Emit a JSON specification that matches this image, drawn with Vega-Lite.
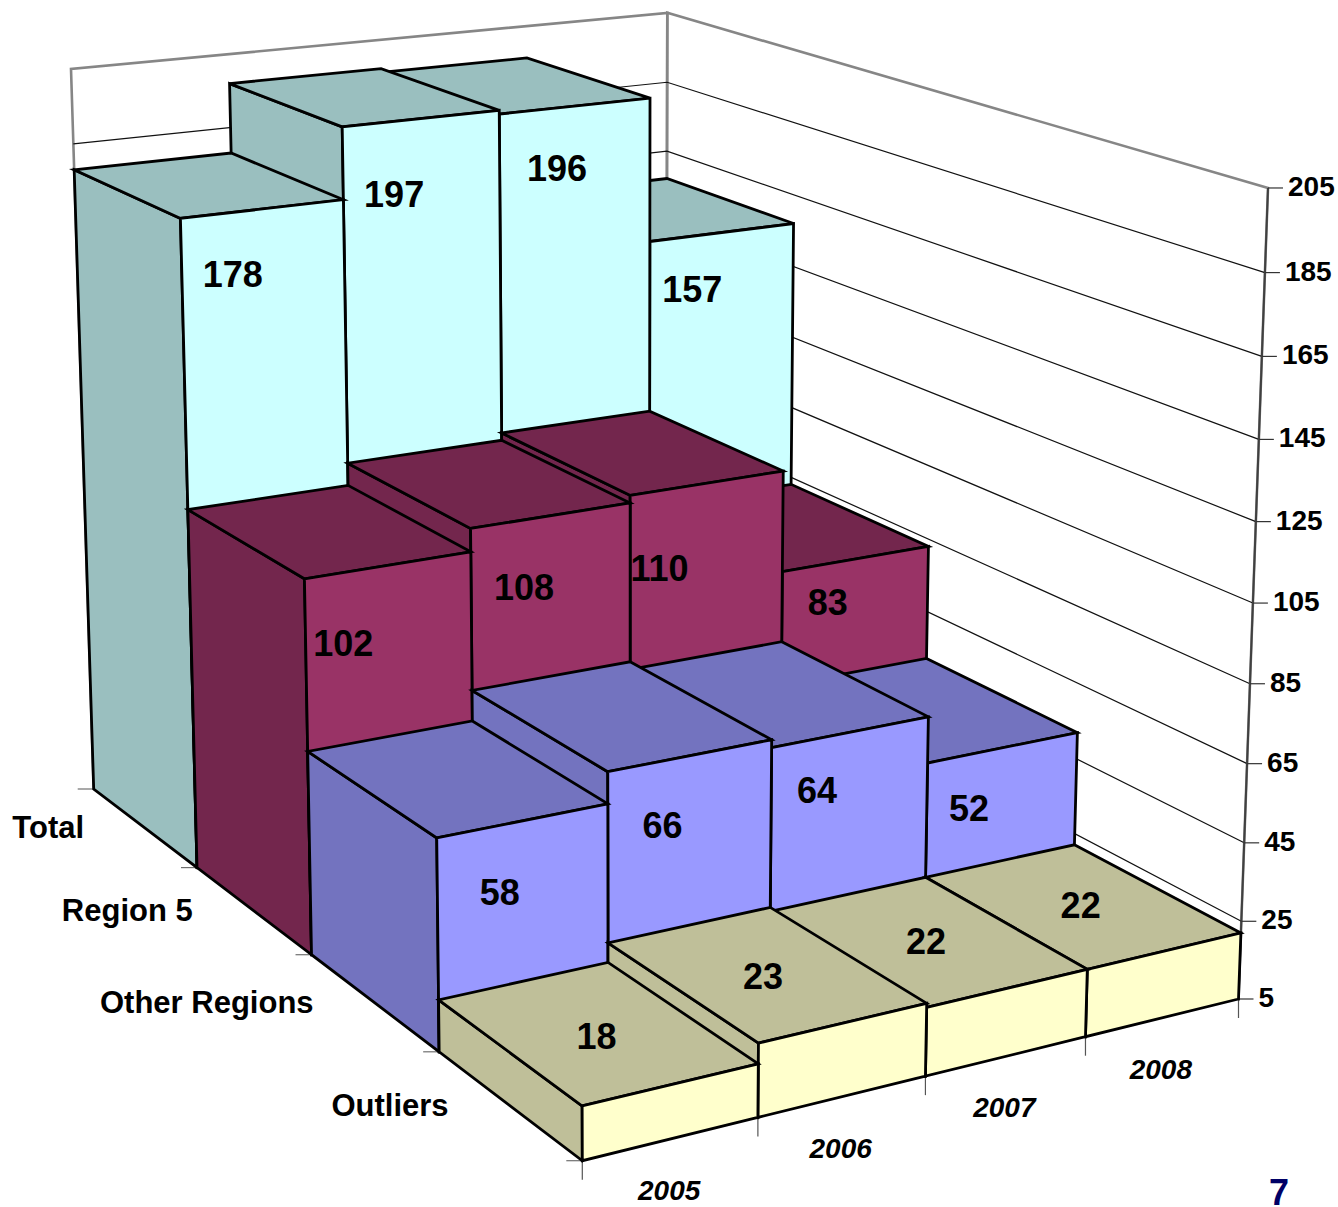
{
  "$schema": "https://vega.github.io/schema/vega-lite/v6.json",
  "width": 1338,
  "height": 1207,
  "padding": 0,
  "autosize": {"type": "none"},
  "background": "white",
  "title": {"text": "7", "orient": "bottom", "anchor": "end", "offset": -2, "dx": -49, "color": "#000066", "font": "Liberation Sans", "fontSize": 36, "fontWeight": "bold", "baseline": "alphabetic"},
  "config": {"view": {"stroke": null}},
  "datasets": {
    "bars": [
      {"series": "Total", "year": 2008, "value": 157},
      {"series": "Total", "year": 2007, "value": 196},
      {"series": "Total", "year": 2006, "value": 197},
      {"series": "Total", "year": 2005, "value": 178},
      {"series": "Region 5", "year": 2008, "value": 83},
      {"series": "Region 5", "year": 2007, "value": 110},
      {"series": "Region 5", "year": 2006, "value": 108},
      {"series": "Region 5", "year": 2005, "value": 102},
      {"series": "Other Regions", "year": 2008, "value": 52},
      {"series": "Other Regions", "year": 2007, "value": 64},
      {"series": "Other Regions", "year": 2006, "value": 66},
      {"series": "Other Regions", "year": 2005, "value": 58},
      {"series": "Outliers", "year": 2008, "value": 22},
      {"series": "Outliers", "year": 2007, "value": 22},
      {"series": "Outliers", "year": 2006, "value": 23},
      {"series": "Outliers", "year": 2005, "value": 18}
    ],
    "walls": [{"wall": "back"}, {"wall": "side"}],
    "valueTicks": [{"tick": 5}, {"tick": 25}, {"tick": 45}, {"tick": 65}, {"tick": 85}, {"tick": 105}, {"tick": 125}, {"tick": 145}, {"tick": 165}, {"tick": 185}, {"tick": 205}],
    "seriesAxis": [{"series": "Total", "depth": 3}, {"series": "Region 5", "depth": 2}, {"series": "Other Regions", "depth": 1}, {"series": "Outliers", "depth": 0}],
    "seriesEdges": [{"edge": 0}, {"edge": 1}, {"edge": 2}, {"edge": 3}, {"edge": 4}],
    "yearAxis": [{"year": "2005", "slot": 0}, {"year": "2006", "slot": 1}, {"year": "2007", "slot": 2}, {"year": "2008", "slot": 3}]
  },
  "layer": [
    {
      "description": "Back and side walls of the 3-D box",
      "data": {"name": "walls"},
      "transform": [
        {"calculate": "[0,1,2,3,4]", "as": "corner"},
        {"flatten": ["corner"]},
        {"calculate": "datum.wall === 'back' ? [0,1,1,0,0][datum.corner] : 1", "as": "mx"},
        {"calculate": "datum.wall === 'back' ? 1 : [1,0,0,1,1][datum.corner]", "as": "mz"},
        {"calculate": "[0,0,1,1,0][datum.corner]", "as": "mu"},
        {"calculate": "(582.3+775.12*datum.mx-465.83*datum.mz-31.81*datum.mu)/(1+0.09602*datum.mx+0.24302*datum.mz-0.05059*datum.mu)", "as": "px"},
        {"calculate": "(1160.7-65.78*datum.mx-179.96*datum.mz-898.4*datum.mu)/(1+0.09602*datum.mx+0.24302*datum.mz-0.05059*datum.mu)", "as": "py"}
      ],
      "mark": {"type": "line", "stroke": "#868686", "strokeWidth": 2.6, "strokeJoin": "miter"},
      "encoding": {
        "x": {"field": "px", "type": "quantitative", "scale": {"domain": [0, 1338], "nice": false, "zero": false}, "axis": null},
        "y": {"field": "py", "type": "quantitative", "scale": {"domain": [1207, 0], "nice": false, "zero": false}, "axis": null},
        "detail": {"field": "wall"},
        "order": {"field": "corner", "type": "quantitative"}
      }
    },
    {
      "description": "Gridlines running round the two walls",
      "data": {"name": "valueTicks"},
      "transform": [
        {"filter": "datum.tick < 205"},
        {"calculate": "[0,1,2]", "as": "corner"},
        {"flatten": ["corner"]},
        {"calculate": "[0,1,1][datum.corner]", "as": "mx"},
        {"calculate": "[1,1,0][datum.corner]", "as": "mz"},
        {"calculate": "(datum.tick-5)/200", "as": "mu"},
        {"calculate": "(582.3+775.12*datum.mx-465.83*datum.mz-31.81*datum.mu)/(1+0.09602*datum.mx+0.24302*datum.mz-0.05059*datum.mu)", "as": "px"},
        {"calculate": "(1160.7-65.78*datum.mx-179.96*datum.mz-898.4*datum.mu)/(1+0.09602*datum.mx+0.24302*datum.mz-0.05059*datum.mu)", "as": "py"}
      ],
      "mark": {"type": "line", "stroke": "#111111", "strokeWidth": 1.2},
      "encoding": {
        "x": {"field": "px", "type": "quantitative", "axis": null},
        "y": {"field": "py", "type": "quantitative", "axis": null},
        "detail": {"field": "tick"},
        "order": {"field": "corner", "type": "quantitative"}
      }
    },
    {
      "description": "Value axis line",
      "data": {"name": "valueTicks"},
      "transform": [
        {"calculate": "(datum.tick-5)/200", "as": "mu"},
        {"calculate": "(582.3+775.12-31.81*datum.mu)/(1+0.09602-0.05059*datum.mu)", "as": "px"},
        {"calculate": "(1160.7-65.78-898.4*datum.mu)/(1+0.09602-0.05059*datum.mu)", "as": "py"}
      ],
      "mark": {"type": "line", "stroke": "#404040", "strokeWidth": 2},
      "encoding": {
        "x": {"field": "px", "type": "quantitative", "axis": null},
        "y": {"field": "py", "type": "quantitative", "axis": null},
        "order": {"field": "tick", "type": "quantitative"}
      }
    },
    {
      "description": "Value axis tick marks",
      "data": {"name": "valueTicks"},
      "transform": [
        {"calculate": "(datum.tick-5)/200", "as": "mu"},
        {"calculate": "(582.3+775.12-31.81*datum.mu)/(1+0.09602-0.05059*datum.mu)", "as": "px"},
        {"calculate": "(1160.7-65.78-898.4*datum.mu)/(1+0.09602-0.05059*datum.mu)", "as": "py"},
        {"calculate": "datum.px+15", "as": "tipx"}
      ],
      "mark": {"type": "rule", "stroke": "#333333", "strokeWidth": 1.2},
      "encoding": {
        "x": {"field": "px", "type": "quantitative", "axis": null},
        "x2": {"field": "tipx"},
        "y": {"field": "py", "type": "quantitative", "axis": null}
      }
    },
    {
      "description": "Depth axis tick marks along the left floor edge",
      "data": {"name": "seriesEdges"},
      "transform": [
        {"calculate": "datum.edge/4", "as": "mz"},
        {"calculate": "(582.3-465.83*datum.mz)/(1+0.24302*datum.mz)", "as": "px"},
        {"calculate": "(1160.7-179.96*datum.mz)/(1+0.24302*datum.mz)", "as": "py"},
        {"calculate": "datum.px-16", "as": "tipx"}
      ],
      "mark": {"type": "rule", "stroke": "#707070", "strokeWidth": 1.2},
      "encoding": {
        "x": {"field": "px", "type": "quantitative", "axis": null},
        "x2": {"field": "tipx"},
        "y": {"field": "py", "type": "quantitative", "axis": null}
      }
    },
    {
      "description": "Category axis tick marks along the front floor edge",
      "data": {"name": "seriesEdges"},
      "transform": [
        {"calculate": "datum.edge/4", "as": "mx"},
        {"calculate": "(582.3+775.12*datum.mx)/(1+0.09602*datum.mx)", "as": "px"},
        {"calculate": "(1160.7-65.78*datum.mx)/(1+0.09602*datum.mx)", "as": "py"},
        {"calculate": "datum.py+19", "as": "tipy"}
      ],
      "mark": {"type": "rule", "stroke": "#555555", "strokeWidth": 1.2},
      "encoding": {
        "x": {"field": "px", "type": "quantitative", "axis": null},
        "y": {"field": "py", "type": "quantitative", "axis": null},
        "y2": {"field": "tipy"}
      }
    },
    {
      "description": "Bars drawn back to front: left side, top and front face of each",
      "data": {"name": "bars"},
      "transform": [
        {"calculate": "(datum.year-2005)/4", "as": "x0"},
        {"calculate": "indexof(['Outliers','Other Regions','Region 5','Total'],datum.series)/4", "as": "z0"},
        {"calculate": "(datum.value-5)/200", "as": "top"},
        {"calculate": "['left','top','front']", "as": "face"},
        {"flatten": ["face"]},
        {"calculate": "[0,1,2,3,4]", "as": "corner"},
        {"flatten": ["corner"]},
        {"calculate": "datum.face === 'left' ? datum.x0 : datum.x0+0.25*[0,1,1,0,0][datum.corner]", "as": "mx"},
        {"calculate": "datum.face === 'front' ? datum.z0 : datum.face === 'left' ? datum.z0+0.25*[0,1,1,0,0][datum.corner] : datum.z0+0.25*[0,0,1,1,0][datum.corner]", "as": "mz"},
        {"calculate": "datum.face === 'top' ? datum.top : datum.top*[0,0,1,1,0][datum.corner]", "as": "mu"},
        {"calculate": "(582.3+775.12*datum.mx-465.83*datum.mz-31.81*datum.mu)/(1+0.09602*datum.mx+0.24302*datum.mz-0.05059*datum.mu)", "as": "px"},
        {"calculate": "(1160.7-65.78*datum.mx-179.96*datum.mz-898.4*datum.mu)/(1+0.09602*datum.mx+0.24302*datum.mz-0.05059*datum.mu)", "as": "py"},
        {"calculate": "datum.series+' '+datum.year+' '+datum.face", "as": "faceId"},
        {"calculate": "datum.series+(datum.face === 'front' ? ' lit' : ' shaded')", "as": "shade"}
      ],
      "mark": {"type": "line", "stroke": "black", "strokeWidth": 2.8, "strokeJoin": "miter", "strokeCap": "square"},
      "encoding": {
        "x": {"field": "px", "type": "quantitative", "axis": null},
        "y": {"field": "py", "type": "quantitative", "axis": null},
        "detail": {"field": "faceId"},
        "fill": {
          "field": "shade",
          "type": "nominal",
          "legend": null,
          "scale": {
            "domain": ["Total lit", "Total shaded", "Region 5 lit", "Region 5 shaded", "Other Regions lit", "Other Regions shaded", "Outliers lit", "Outliers shaded"],
            "range": ["#CCFFFF", "#9ABFBF", "#993366", "#73264D", "#9999FF", "#7373BF", "#FFFFCC", "#BFBF99"]
          }
        },
        "order": {"field": "corner", "type": "quantitative"}
      }
    },
    {
      "description": "Value labels on the bars",
      "data": {"name": "bars"},
      "transform": [
        {"calculate": "(datum.year-2005)/4", "as": "x0"},
        {"calculate": "indexof(['Outliers','Other Regions','Region 5','Total'],datum.series)/4", "as": "z0"},
        {"calculate": "({'Total':[0.308,0.32,0.377,0.293],'Region 5':[0.223,0.328,0.19,0.31],'Other Regions':[0.36,0.33,0.288,0.28],'Outliers':[0.505,0.49,0.5,0.5]})[datum.series][datum.year-2005]", "as": "across"},
        {"calculate": "({'Total':[16,19,16,14.5],'Region 5':[18,17.5,20.5,10.5],'Other Regions':[16.5,16,13.25,14],'Outliers':[1.2,0.7,0.2,0]})[datum.series][datum.year-2005]", "as": "drop"},
        {"calculate": "datum.x0+0.25*datum.across", "as": "mx"},
        {"calculate": "datum.series === 'Outliers' ? 0.125 : datum.z0", "as": "mz"},
        {"calculate": "(datum.value-datum.drop-5)/200", "as": "mu"},
        {"calculate": "(582.3+775.12*datum.mx-465.83*datum.mz-31.81*datum.mu)/(1+0.09602*datum.mx+0.24302*datum.mz-0.05059*datum.mu)", "as": "px"},
        {"calculate": "(1160.7-65.78*datum.mx-179.96*datum.mz-898.4*datum.mu)/(1+0.09602*datum.mx+0.24302*datum.mz-0.05059*datum.mu)", "as": "py"}
      ],
      "mark": {"type": "text", "font": "Liberation Sans", "fontWeight": "bold", "fontSize": 36, "color": "black", "align": "center", "baseline": "middle", "dy": 2},
      "encoding": {
        "x": {"field": "px", "type": "quantitative", "axis": null},
        "y": {"field": "py", "type": "quantitative", "axis": null},
        "text": {"field": "value", "type": "quantitative"}
      }
    },
    {
      "description": "Value axis labels",
      "data": {"name": "valueTicks"},
      "transform": [
        {"calculate": "(datum.tick-5)/200", "as": "mu"},
        {"calculate": "(582.3+775.12-31.81*datum.mu)/(1+0.09602-0.05059*datum.mu)", "as": "px"},
        {"calculate": "(1160.7-65.78-898.4*datum.mu)/(1+0.09602-0.05059*datum.mu)", "as": "py"}
      ],
      "mark": {"type": "text", "font": "Liberation Sans", "fontWeight": "bold", "fontSize": 28, "color": "black", "align": "left", "baseline": "middle", "dx": 20},
      "encoding": {
        "x": {"field": "px", "type": "quantitative", "axis": null},
        "y": {"field": "py", "type": "quantitative", "axis": null},
        "text": {"field": "tick", "type": "quantitative"}
      }
    },
    {
      "description": "Series names along the depth axis",
      "data": {"name": "seriesAxis"},
      "transform": [
        {"calculate": "(datum.depth+0.5)/4", "as": "mz"},
        {"calculate": "(582.3-465.83*datum.mz)/(1+0.24302*datum.mz)", "as": "px"},
        {"calculate": "(1160.7-179.96*datum.mz)/(1+0.24302*datum.mz)", "as": "py"}
      ],
      "mark": {"type": "text", "font": "Liberation Sans", "fontWeight": "bold", "fontSize": 31, "color": "black", "align": "right", "baseline": "middle", "dx": -60, "dy": 2},
      "encoding": {
        "x": {"field": "px", "type": "quantitative", "axis": null},
        "y": {"field": "py", "type": "quantitative", "axis": null},
        "text": {"field": "series"}
      }
    },
    {
      "description": "Year labels along the front axis",
      "data": {"name": "yearAxis"},
      "transform": [
        {"calculate": "(datum.slot+0.5)/4", "as": "mx"},
        {"calculate": "(582.3+775.12*datum.mx)/(1+0.09602*datum.mx)", "as": "px"},
        {"calculate": "(1160.7-65.78*datum.mx)/(1+0.09602*datum.mx)", "as": "py"}
      ],
      "mark": {"type": "text", "font": "Liberation Sans", "fontWeight": "bold", "fontStyle": "italic", "fontSize": 28, "color": "black", "align": "center", "baseline": "middle", "dx": -2, "dy": 53},
      "encoding": {
        "x": {"field": "px", "type": "quantitative", "axis": null},
        "y": {"field": "py", "type": "quantitative", "axis": null},
        "text": {"field": "year"}
      }
    }
  ]
}
